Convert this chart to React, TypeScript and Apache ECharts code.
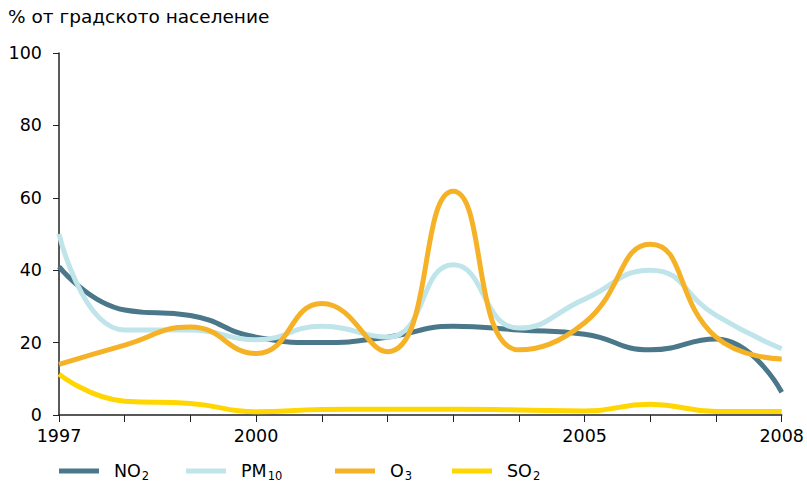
import React, { useEffect, useRef } from "react";
import * as echarts from "echarts";

const years = [1997, 1998, 1999, 2000, 2001, 2002, 2003, 2004, 2005, 2006, 2007, 2008];
const no2 = [41, 29, 27.5, 21.5, 20, 21.5, 24.5, 23.5, 22.3, 18, 21, 6.3];
const pm10 = [50, 23.5, 23.5, 20.8, 24.5, 21.5, 41.5, 24, 32, 40, 27.5, 18.3];
const o3 = [14, 19.3, 24.3, 17, 30.8, 17.5, 61.8, 18, 25.5, 47.2, 21.5, 15.5];
const so2 = [11.3, 3.8, 3.2, 0.9, 1.5, 1.6, 1.6, 1.4, 1.1, 3, 1, 1];
const xLabelYears = [1997, 2000, 2005, 2008];
const seriesNames = ["NO2", "PM10", "O3", "SO2"];
const legendRich: Record<string, [string, string]> = {
  NO2: ["NO", "2"],
  PM10: ["PM", "10"],
  O3: ["O", "3"],
  SO2: ["SO", "2"],
};
const colors = ["#4a7789", "#bfe4ea", "#f6b226", "#ffd600"];
const yTitle = "% от градското население";

const FONT = "DejaVu Sans, Verdana, sans-serif";

export default function App() {
  const ref = useRef<HTMLDivElement>(null);
  useEffect(() => {
    if (!ref.current) return;
    const chart = echarts.init(ref.current, undefined, { renderer: "svg" });
    const allData = [no2, pm10, o3, so2];
    const legendLefts = [54, 181, 330, 447];
    const option: any = {
      animation: false,
      textStyle: { fontFamily: FONT },
      title: {
        text: yTitle,
        left: 3,
        top: 2,
        textStyle: { fontFamily: FONT, fontSize: 18.5, fontWeight: "normal", color: "#000" },
      },
      grid: { left: 59, right: 17, top: 53, bottom: 70, containLabel: false },
      legend: seriesNames.map((n, i) => ({
        data: [n],
        left: legendLefts[i],
        top: 457,
        itemWidth: 40,
        itemHeight: 5,
        icon: "rect",
        selectedMode: false,
        formatter: (name: string) => `{a|${legendRich[name][0]}}{b|${legendRich[name][1]}}`,
        textStyle: {
          padding: [0, 0, 0, 10],
          rich: {
            a: { fontFamily: FONT, fontSize: 17.5, color: "#000" },
            b: { fontFamily: FONT, fontSize: 11.5, color: "#000", padding: [9, 0, 0, 1] },
          },
        },
      })),
      xAxis: {
        type: "value",
        min: 1997,
        max: 2008,
        interval: 1,
        splitLine: { show: false },
        axisLine: { lineStyle: { color: "#222", width: 1.5 } },
        axisTick: { show: true, length: 7, inside: false, lineStyle: { color: "#222", width: 1 } },
        axisLabel: {
          margin: 12,
          fontSize: 17.5,
          color: "#000",
          fontFamily: FONT,
          showMinLabel: true,
          showMaxLabel: true,
          formatter: (v: number) => (xLabelYears.includes(v) ? String(v) : ""),
        },
      },
      yAxis: {
        type: "value",
        min: 0,
        max: 100,
        interval: 20,
        splitLine: { show: false },
        axisLine: { show: true, lineStyle: { color: "#222", width: 1.5 } },
        axisTick: { show: true, length: 6, inside: false, lineStyle: { color: "#222", width: 1 } },
        axisLabel: { margin: 17, fontSize: 17.5, color: "#000", fontFamily: FONT },
      },
      series: seriesNames.map((n, i) => ({
        name: n,
        type: "line",
        smooth: 0.5,
        symbol: "none",
        color: colors[i],
        lineStyle: { width: 5, color: colors[i] },
        data: years.map((y, j) => [y, allData[i][j]]),
        z: 2 + i,
      })),
    };
    chart.setOption(option);
    return () => chart.dispose();
  }, []);
  return <div ref={ref} style={{ width: 807, height: 485, position: "absolute", left: 0, top: 0 }} />;
}
